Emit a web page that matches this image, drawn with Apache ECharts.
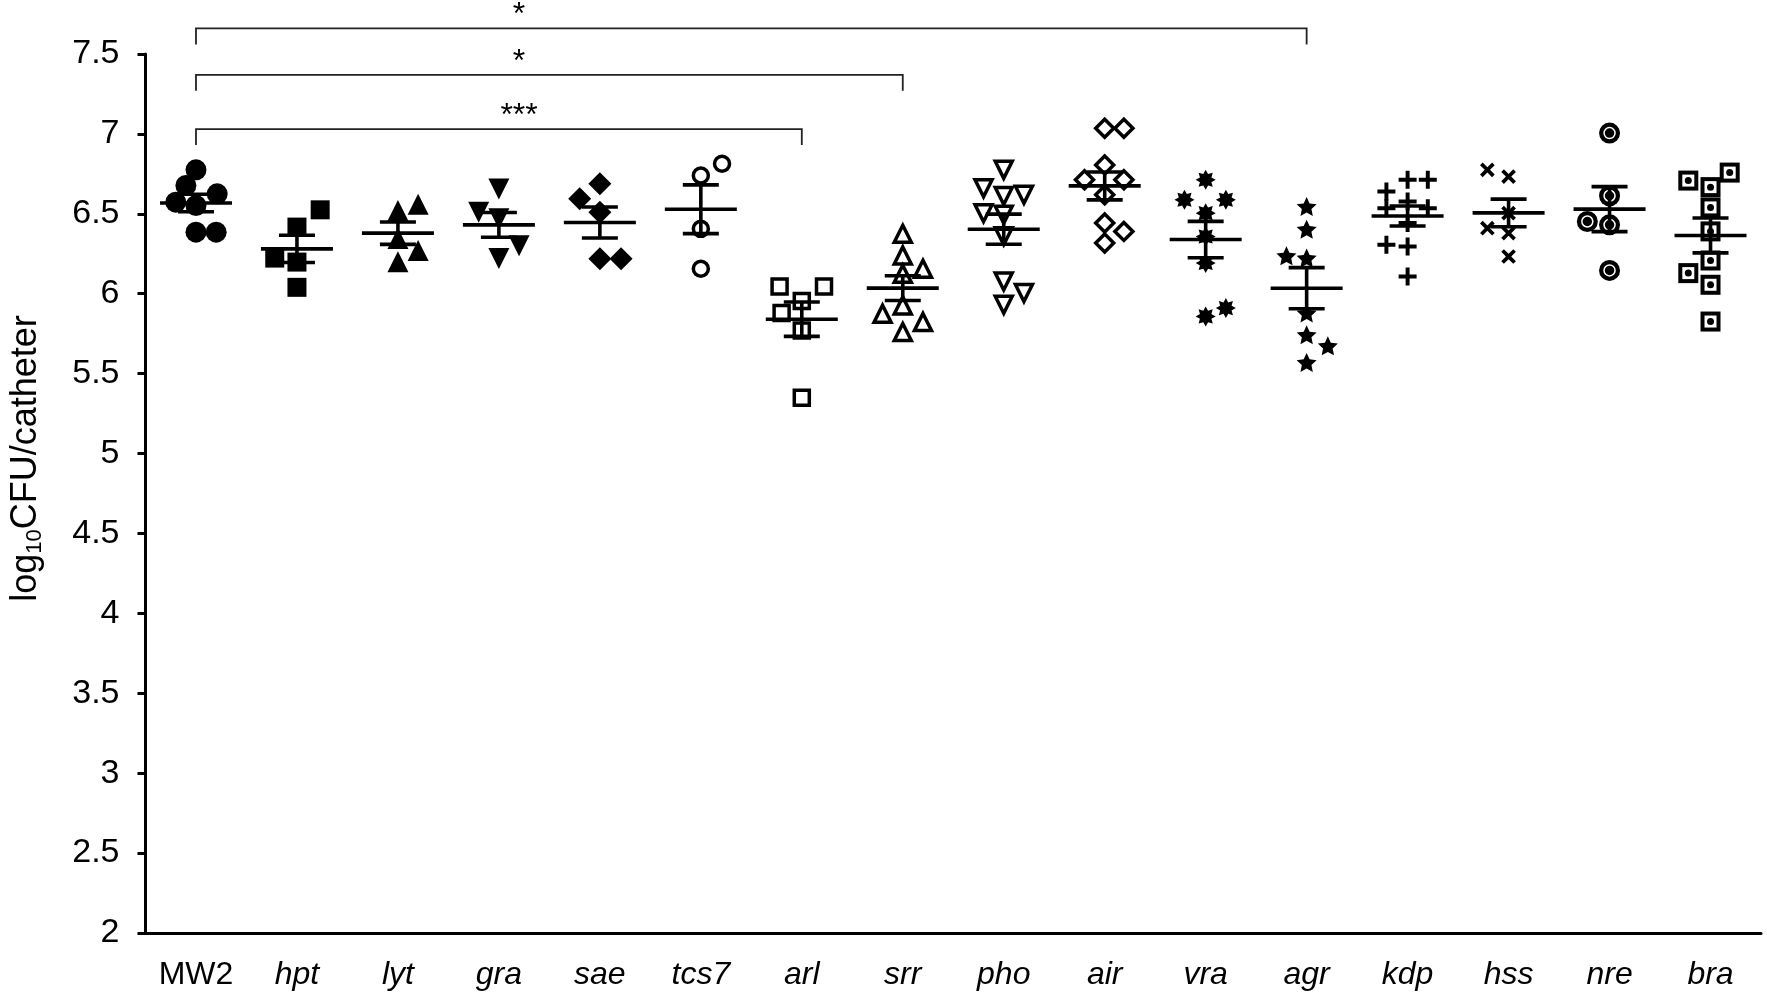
<!DOCTYPE html>
<html><head><meta charset="utf-8">
<script src="https://cdn.jsdelivr.net/npm/echarts/dist/echarts.min.js"></script>
<style>html,body{margin:0;padding:0;background:#fff}#c{width:1767px;height:998px}</style>
</head><body><div id="c"></div>
<script>
// ---- data (log10 CFU/catheter) ----
const categories = ['MW2','hpt','lyt','gra','sae','tcs7','arl','srr','pho','air','vra','agr','kdp','hss','nre','bra'];
const yTicks = [2,2.5,3,3.5,4,4.5,5,5.5,6,6.5,7,7.5];

const valMW2  = [6.775, 6.677, 6.625, 6.573, 6.552, 6.385, 6.385];
const valHpt  = [6.525, 6.417, 6.223, 6.198, 6.04];
const valLyt  = [6.52, 6.56, 6.345, 6.27, 6.20];
const valGra  = [6.656, 6.51, 6.469, 6.30, 6.22];
const valSae  = [6.688, 6.594, 6.51, 6.219, 6.219];
const valTcs7 = [6.74, 6.813, 6.406, 6.156];
const valArl  = [6.046, 6.046, 5.954, 5.879, 5.77, 5.349];
const valSrr  = [6.375, 6.239, 6.156, 6.125, 5.927, 5.875, 5.823, 5.76];
const valPho  = [6.775, 6.66, 6.612, 6.619, 6.504, 6.494, 6.36, 6.077, 6.004, 5.931];
const valAir  = [7.036, 7.036, 6.806, 6.713, 6.713, 6.619, 6.442, 6.39, 6.317];
const valVra  = [6.713, 6.588, 6.588, 6.504, 6.358, 6.192, 5.91, 5.858];
const valAgr  = [6.546, 6.404, 6.237, 6.223, 5.879, 5.743, 5.674, 5.57];
const valKdp  = [6.713, 6.713, 6.64, 6.577, 6.535, 6.535, 6.442, 6.306, 6.296, 6.108];
const valHss  = [6.775, 6.733, 6.504, 6.41, 6.379, 6.233];
const valNre  = [7.005, 6.613, 6.452, 6.431, 6.146];
const valBra  = [6.758, 6.708, 6.667, 6.54, 6.39, 6.208, 6.129, 6.056, 5.826];

// horizontal scatter spread of overlapping points (fraction of a category)
const jitMW2  = [0, -0.1, 0.21, -0.2, 0, 0, 0.2];
const jitHpt  = [0.23, 0, -0.22, 0, 0];
const jitLyt  = [0, 0.2, 0, 0.2, 0];
const jitGra  = [0, -0.2, 0, 0.2, 0];
const jitSae  = [0, -0.2, 0, 0, 0.21];
const jitTcs7 = [0, 0.21, 0, 0];
const jitArl  = [-0.22, 0.22, 0, -0.2, 0, 0];
const jitSrr  = [0, 0, 0.2, 0, 0, -0.2, 0.2, 0];
const jitPho  = [0, -0.2, 0, 0.2, -0.2, 0, 0, 0, 0.2, 0];
const jitAir  = [0, 0.19, 0, -0.2, 0.19, 0, 0, 0.19, 0];
const jitVra  = [0, -0.21, 0.2, 0, 0, 0, 0.2, 0];
const jitAgr  = [0, 0, -0.2, 0, 0, 0, 0.21, 0];
const jitKdp  = [0, 0.2, -0.21, 0, -0.21, 0.2, 0, -0.21, 0, 0];
const jitHss  = [-0.21, 0, 0, -0.21, 0, 0];
const jitNre  = [0, 0, -0.22, 0, 0];
const jitBra  = [0.19, -0.22, 0, 0, 0, 0, -0.22, 0, 0];

// significance brackets (all from MW2)
const bracketTo    = ['arl', 'srr', 'agr'];
const bracketText  = ['***', '*', '*'];
const bracketLevel = [7.03, 7.37, 7.66];

// ---- build ----
const groupValues = [valMW2,valHpt,valLyt,valGra,valSae,valTcs7,valArl,valSrr,valPho,valAir,valVra,valAgr,valKdp,valHss,valNre,valBra];
const groupJitter = [jitMW2,jitHpt,jitLyt,jitGra,jitSae,jitTcs7,jitArl,jitSrr,jitPho,jitAir,jitVra,jitAgr,jitKdp,jitHss,jitNre,jitBra];

function starPath(n, inner) {
  const pts = [];
  for (let k = 0; k < 2 * n; k++) {
    const a = -Math.PI / 2 + k * Math.PI / n;
    const r = (k % 2) ? inner : 1;
    pts.push((100 * r * Math.cos(a)).toFixed(2) + ',' + (100 * r * Math.sin(a)).toFixed(2));
  }
  return 'path://M' + pts.join('L') + 'Z';
}
const plusPath = 'path://M-22,-100L22,-100L22,-22L100,-22L100,22L22,22L22,100L-22,100L-22,22L-100,22L-100,-22L-22,-22Z';
const K = '#000', W = '#fff';
const filled = (symbol, size, rot) => [{symbol, size, rot: rot || 0, color: K, border: K, bw: 0}];
const open = (symbol, size, rot) => [{symbol, size, rot: rot || 0, color: W, border: K, bw: 3.5}];
const symbolSpecs = [
  filled('circle', 21),
  filled('rect', 19),
  filled('triangle', 21),
  filled('triangle', 21, 180),
  filled('diamond', 23),
  open('circle', 15),
  open('rect', 15),
  open('triangle', 17),
  open('triangle', 17, 180),
  open('diamond', 18),
  filled(starPath(8, 0.62), 20),
  filled(starPath(5, 0.48), 20),
  filled(plusPath, 18),
  filled(plusPath, 17, 45),
  [{symbol:'circle', size:21, rot:0, color:K, border:K, bw:0}, {symbol:'circle', size:11, rot:0, color:K, border:W, bw:1.5}],
  [{symbol:'rect', size:20, rot:0, color:K, border:K, bw:0}, {symbol:'rect', size:12, rot:0, color:W, border:W, bw:0}, {symbol:'circle', size:7, rot:0, color:K, border:K, bw:0}]
];

const series = [];
groupValues.forEach((vals, i) => {
  const pts = vals.map((v, j) => [i + groupJitter[i][j], v]);
  symbolSpecs[i].forEach((s, li) => {
    series.push({
      type: 'scatter', xAxisIndex: 1, yAxisIndex: 0, data: pts,
      symbol: s.symbol, symbolSize: s.size, symbolRotate: s.rot, symbolKeepAspect: true,
      itemStyle: {color: s.color, borderColor: s.border, borderWidth: s.bw, opacity: 1},
      emphasis: {disabled: true}, silent: true, z: 2 + li * 0.1, animation: false
    });
  });
});

function mean(a) { return a.reduce((p, c) => p + c, 0) / a.length; }
function sem(a) {
  const m = mean(a);
  const v = a.reduce((p, c) => p + (c - m) * (c - m), 0) / (a.length - 1);
  return Math.sqrt(v) / Math.sqrt(a.length);
}
const statData = groupValues.map((a, i) => [i, mean(a), sem(a)]);
series.push({
  type: 'custom', xAxisIndex: 1, yAxisIndex: 0, data: statData, z: 5, silent: true, animation: false,
  encode: {x: 0, y: 1},
  renderItem: (params, api) => {
    const x = api.value(0), m = api.value(1), s = api.value(2);
    const c = api.coord([x, m]), hi = api.coord([x, m + s]), lo = api.coord([x, m - s]);
    const st = {stroke: K, lineWidth: 3.6};
    return {type: 'group', children: [
      {type: 'line', shape: {x1: c[0] - 36, y1: c[1], x2: c[0] + 36, y2: c[1]}, style: st},
      {type: 'line', shape: {x1: hi[0], y1: hi[1], x2: lo[0], y2: lo[1]}, style: st},
      {type: 'line', shape: {x1: hi[0] - 18, y1: hi[1], x2: hi[0] + 18, y2: hi[1]}, style: st},
      {type: 'line', shape: {x1: lo[0] - 18, y1: lo[1], x2: lo[0] + 18, y2: lo[1]}, style: st}
    ]};
  }
});

const bracketData = bracketTo.map((t, k) => [0, categories.indexOf(t), bracketLevel[k], k]);
series.push({
  type: 'custom', xAxisIndex: 1, yAxisIndex: 0, data: bracketData, z: 6, silent: true, animation: false,
  clip: false, encode: {x: 0, y: 2},
  renderItem: (params, api) => {
    const a = api.value(0), b = api.value(1), lv = api.value(2), k = api.value(3);
    const p1 = api.coord([a, lv]), p2 = api.coord([b, lv]);
    const d1 = api.coord([a, lv - 0.1]), d2 = api.coord([b, lv - 0.1]);
    const tp = api.coord([3.2, lv + 0.125]);
    const st = {stroke: '#222', lineWidth: 1.8, fill: null};
    return {type: 'group', children: [
      {type: 'polyline', shape: {points: [d1, p1, p2, d2]}, style: st},
      {type: 'text', x: tp[0], y: tp[1] + 7, style: {text: bracketText[k], fill: K, font: '32px "Liberation Sans", Arial', align: 'center', verticalAlign: 'middle'}}
    ]};
  }
});

const chart = echarts.init(document.getElementById('c'));
chart.setOption({
  backgroundColor: '#fff',
  animation: false,
  grid: {left: 129, right: 6, top: 54, bottom: 65},
  xAxis: [
    {
      type: 'category', data: categories, boundaryGap: true, position: 'bottom',
      axisLine: {onZero: false, lineStyle: {color: K, width: 3}},
      axisTick: {alignWithLabel: true, interval: 0, length: 8, lineStyle: {color: K, width: 3}},
      axisLabel: {
        interval: 0, margin: 26, color: K, fontSize: 32, fontFamily: '"Liberation Sans", Arial',
        formatter: v => v === 'MW2' ? v : '{i|' + v + '}',
        rich: {i: {fontStyle: 'italic', fontSize: 32, fontFamily: '"Liberation Sans", Arial', color: K}}
      },
      splitLine: {show: false}
    },
    {type: 'value', min: -0.5, max: 15.5, show: false, axisLine: {onZero: false}}
  ],
  yAxis: {
    type: 'value', min: yTicks[0], max: yTicks[yTicks.length - 1], interval: 0.5,
    axisLine: {show: true, onZero: false, lineStyle: {color: K, width: 3}},
    axisTick: {show: true, length: 8, lineStyle: {color: K, width: 3}},
    axisLabel: {margin: 26, color: K, fontSize: 34, fontFamily: '"Liberation Sans", Arial'},
    splitLine: {show: false},
    name: 'log{sub|10}CFU/catheter', nameLocation: 'middle', nameGap: 100, nameRotate: 90,
    nameTextStyle: {
      color: K, fontSize: 36, fontFamily: '"Liberation Sans", Arial', padding: [0, 0, 0, 70],
      rich: {sub: {fontSize: 22, fontFamily: '"Liberation Sans", Arial', color: K, verticalAlign: 'bottom', padding: [17, 0, 0, 0]}}
    }
  },
  series: series
});
</script></body></html>
